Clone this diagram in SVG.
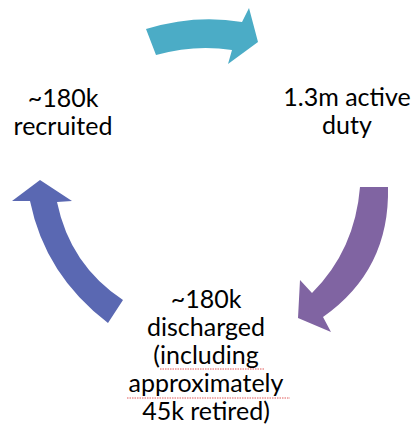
<svg xmlns="http://www.w3.org/2000/svg" width="414" height="429" viewBox="0 0 414 429">
<style>
text{font-family:Lato,"Liberation Sans",sans-serif;font-size:25px;fill:#000;text-anchor:middle}
.sq{fill:none;stroke:#e05a5a;stroke-width:1;stroke-dasharray:1.5 1}
</style>
<rect width="414" height="429" fill="#fff"/>
<g id="connectors">
<path id="arrow-top" fill="#4BACC6" d="M146,29 Q195,14 242,22 L249,8 L258,42 L228,64 L232,50 Q195,44 156,55 Z"/>
<path id="arrow-right" fill="#8064A2" d="M360,187 L388,187 Q390,270 323,317 L331,332 L298,318 L300,280 L312,293 Q355,250 360,187 Z"/>
<path id="arrow-left" fill="#5A68B2" d="M108,323 Q45,275 30,201 L12,201 L40,180 L72,201 L57,202 Q70,265 123,300 Z"/>
</g>
<g id="recruited">
<text x="63" y="107">~180k</text>
<text x="63" y="135">recruited</text>
</g>
<g id="active">
<text x="347" y="106">1.3m active</text>
<text x="347" y="134">duty</text>
</g>
<g id="discharged">
<text x="206" y="308">~180k</text>
<text x="206" y="336">discharged</text>
<text x="206" y="364">(including</text>
<text x="206" y="392">approximately</text>
<text x="206" y="420">45k retired)</text>
<path class="sq" d="M160,369 L264,369"/>
<path class="sq" d="M127,398 L290,398"/>
</g>
</svg>
